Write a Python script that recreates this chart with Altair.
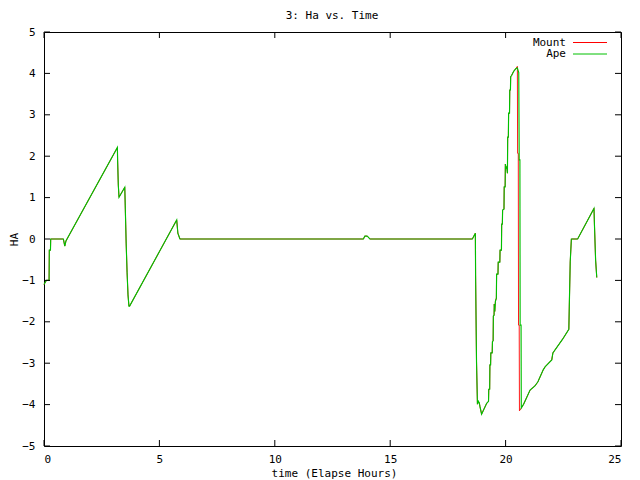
import altair as alt
import pandas as pd

# ---- data ----
series_names = ["Mount", "Ape"]
series_colors = ["#ff0000", "#00c000"]
chart_title = "3: Ha vs. Time"

# shared part before the crash near 20.5 h
head_t = [0.00, 0.10, 0.22, 0.23, 0.28, 0.29, 0.84, 0.90, 0.95, 3.18, 3.19, 3.22, 3.25,
          3.50, 3.52, 3.56, 3.60, 3.64, 3.68, 3.71, 5.75, 5.80, 5.89, 13.84, 13.90,
          14.00, 14.06, 14.12, 18.56, 18.69, 18.70, 18.74, 18.78, 18.82, 18.86, 18.89,
          18.96, 19.18, 19.26, 19.27, 19.31, 19.32, 19.35, 19.36, 19.42, 19.43, 19.46,
          19.47, 19.50, 19.51, 19.53, 19.56, 19.60, 19.61, 19.67, 19.68, 19.75, 19.76,
          19.82, 19.83, 19.86, 19.87, 19.93, 19.94, 19.98, 19.99, 20.02, 20.05, 20.08,
          20.09, 20.12, 20.13, 20.17, 20.18, 20.21, 20.22, 20.26, 20.35, 20.45]
head_v = [-1.10, -1.00, -1.00, -0.27, -0.27, 0.00, 0.00, -0.17, -0.05, 2.21, 1.89, 1.30, 1.01,
          1.25, 0.80, -0.10, -0.81, -1.35, -1.62, -1.62, 0.46, 0.14, 0.00, 0.00, 0.07,
          0.07, 0.04, 0.00, 0.00, 0.14, -0.89, -2.97, -3.99, -3.92, -3.96, -4.05,
          -4.23, -3.97, -3.92, -3.63, -3.63, -3.04, -3.04, -2.75, -2.75, -2.48, -2.46,
          -1.86, -1.84, -1.57, -1.75, -1.50, -1.43, -0.85, -0.85, -0.56, -0.56, -0.27,
          -0.27, 0.36, 0.36, 0.70, 0.72, 1.26, 1.26, 1.81, 1.70, 1.75, 1.59,
          2.46, 2.46, 3.04, 3.04, 3.60, 3.60, 3.92, 3.95, 4.05, 4.12]

# the crash itself differs slightly between the two series
mount_peak_t = [20.51, 20.52, 20.55, 20.56, 20.59, 20.60, 20.66]
mount_peak_v = [4.17, 2.07, 2.07, -2.08, -2.08, -4.15, -4.10]
ape_peak_t = [20.51, 20.57, 20.59, 20.62, 20.63, 20.67, 20.68]
ape_peak_v = [4.13, 4.02, 1.91, 1.91, -2.08, -2.08, -4.08]

# shared part after the crash
tail_t = [20.78, 21.06, 21.27, 21.40, 21.63, 21.72, 22.00, 22.05, 22.47, 22.74, 22.76,
          22.80, 22.85, 23.12, 23.83, 23.85, 23.90, 23.95]
tail_v = [-3.99, -3.65, -3.55, -3.45, -3.16, -3.08, -2.92, -2.75, -2.42, -2.18, -1.62,
          -0.55, 0.00, 0.00, 0.74, 0.34, -0.51, -0.93]

x_ticks = [0, 5, 10, 15, 20, 25]
y_ticks = [-5, -4, -3, -2, -1, 0, 1, 2, 3, 4, 5]

# ---- build tables ----
def series_df(name, t, v):
    return pd.DataFrame({"series": name, "t": t, "v": v, "i": list(range(len(t)))})

mount_df = series_df("Mount", head_t + mount_peak_t + tail_t, head_v + mount_peak_v + tail_v)
ape_df = series_df("Ape", head_t + ape_peak_t + tail_t, head_v + ape_peak_v + tail_v)

W, H = 577, 414
FONT = "DejaVu Sans Mono"
FS = 11

xscale = alt.Scale(domain=[0, 25], nice=False, zero=False)
yscale = alt.Scale(domain=[-5, 5], nice=False, zero=False)

axis_style = dict(grid=False, domain=False, ticks=False, tickSize=0,
                  labelFont=FONT, labelFontSize=FS, labelColor="black",
                  titleFont=FONT, titleFontSize=FS, titleFontWeight="normal",
                  titleColor="black")
x_axis = alt.Axis(values=x_ticks, title="time (Elapse Hours)", titleX=290, titleY=27,
                  titleBaseline="middle", titleAlign="center", labelPadding=7, **axis_style)
y_axis = alt.Axis(values=y_ticks, title="HA", titleX=-30, titleY=207, titleAngle=270,
                  titleBaseline="middle", titleAlign="center", labelPadding=9, **axis_style)

X = alt.X("t:Q", scale=xscale, axis=x_axis)
Y = alt.Y("v:Q", scale=yscale, axis=y_axis)

def line(df, color, sw):
    return alt.Chart(df).mark_line(color=color, strokeWidth=sw, interpolate="linear").encode(
        x=X, y=Y, order="i:Q",
    )

mount_line = line(mount_df, series_colors[0], 0.9)
ape_line = line(ape_df, series_colors[1], 1.15)

xt = pd.DataFrame({"t": x_ticks})
yt = pd.DataFrame({"v": y_ticks})
TL = 6
tick_bottom = alt.Chart(xt).mark_rule(color="black", strokeWidth=1).encode(
    x=X, y=alt.value(H), y2=alt.value(H - TL))
tick_top = alt.Chart(xt).mark_rule(color="black", strokeWidth=1).encode(
    x=X, y=alt.value(0), y2=alt.value(TL))
tick_left = alt.Chart(yt).mark_rule(color="black", strokeWidth=1).encode(
    y=Y, x=alt.value(0), x2=alt.value(TL))
tick_right = alt.Chart(yt).mark_rule(color="black", strokeWidth=1).encode(
    y=Y, x=alt.value(W), x2=alt.value(W - TL))

# chart title, as text above the plot
title_layer = alt.Chart(pd.DataFrame({"label": [chart_title]})).mark_text(
    align="center", baseline="middle", font=FONT, fontSize=FS, color="black").encode(
    text="label:N", x=alt.value(288), y=alt.value(-16))

# legend (gnuplot style: label on the left, line sample on the right)
legend_layers = []
for k, (name, col) in enumerate(zip(series_names, series_colors)):
    yy = 10.5 + 11.5 * k
    one = pd.DataFrame({"label": [name]})
    legend_layers.append(
        alt.Chart(one).mark_text(align="right", baseline="middle", font=FONT, fontSize=FS,
                                 color="black").encode(
            text="label:N", x=alt.value(522), y=alt.value(yy)))
    legend_layers.append(
        alt.Chart(one).mark_rule(color=col, strokeWidth=1).encode(
            x=alt.value(529), x2=alt.value(563), y=alt.value(yy)))

chart = alt.layer(
    mount_line, ape_line, tick_bottom, tick_top, tick_left, tick_right, title_layer,
    *legend_layers
).properties(
    width=W, height=H,
    background="white",
    autosize=alt.AutoSizeParams(type="none"),
    padding={"left": 36, "top": 24, "right": 11, "bottom": 34},
).configure_view(
    stroke="black", strokeWidth=1
)

chart.save("out.html", embed_options={"renderer": "svg", "actions": False})
